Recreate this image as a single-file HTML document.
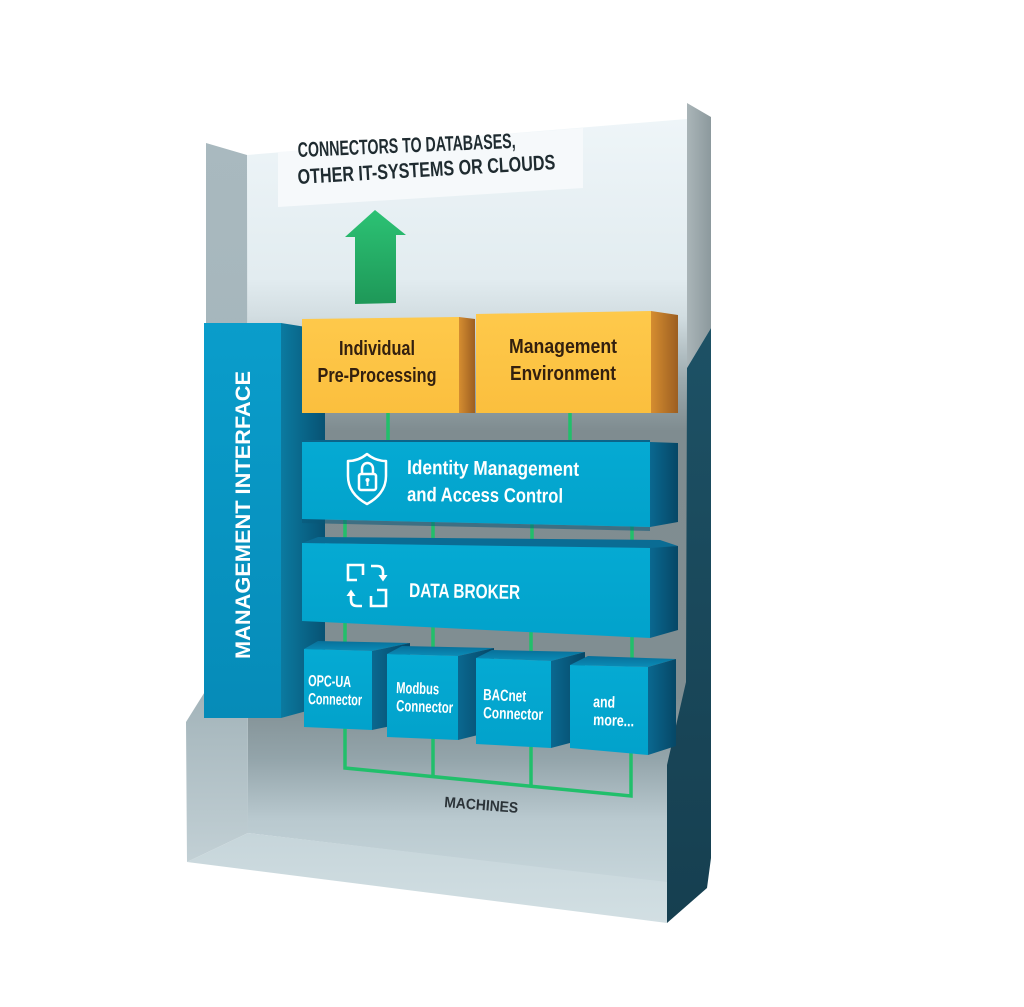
<!DOCTYPE html>
<html><head><meta charset="utf-8">
<style>
html,body{margin:0;padding:0;background:#fff;}
svg{display:block;}
text{font-family:"Liberation Sans Narrow","Liberation Sans",sans-serif;font-weight:bold;}
</style></head>
<body>
<svg width="1024" height="1007" viewBox="0 0 1024 1007" xmlns="http://www.w3.org/2000/svg">
<defs>
  <linearGradient id="backG" gradientUnits="userSpaceOnUse" x1="0" y1="119" x2="0" y2="880">
    <stop offset="0" stop-color="#eef5f8"/>
    <stop offset="0.21" stop-color="#e2ecf0"/>
    <stop offset="0.26" stop-color="#d2dde1"/>
    <stop offset="0.34" stop-color="#9dabaf"/>
    <stop offset="0.41" stop-color="#7f8c90"/>
    <stop offset="0.76" stop-color="#808e92"/>
    <stop offset="0.84" stop-color="#93a4aa"/>
    <stop offset="0.92" stop-color="#b9c9cf"/>
    <stop offset="1" stop-color="#c6d5da"/>
  </linearGradient>
  <linearGradient id="leftG" gradientUnits="userSpaceOnUse" x1="0" y1="143" x2="0" y2="862">
    <stop offset="0" stop-color="#a9b9bf"/>
    <stop offset="0.75" stop-color="#a1b2b8"/>
    <stop offset="1" stop-color="#c2d0d5"/>
  </linearGradient>
  <linearGradient id="floorG" gradientUnits="userSpaceOnUse" x1="0" y1="833" x2="0" y2="923">
    <stop offset="0" stop-color="#c6d5da"/>
    <stop offset="1" stop-color="#d2dfe3"/>
  </linearGradient>
  <linearGradient id="stripG" x1="0" y1="0" x2="1" y2="0">
    <stop offset="0" stop-color="#aab5b8"/>
    <stop offset="1" stop-color="#8c999d"/>
  </linearGradient>
  <linearGradient id="tealG" gradientUnits="userSpaceOnUse" x1="0" y1="330" x2="0" y2="923">
    <stop offset="0" stop-color="#1d5165"/>
    <stop offset="1" stop-color="#163f50"/>
  </linearGradient>
  <linearGradient id="arrowG" x1="0" y1="0" x2="0" y2="1">
    <stop offset="0" stop-color="#2cc274"/>
    <stop offset="1" stop-color="#1e9858"/>
  </linearGradient>
  <linearGradient id="miFront" x1="0" y1="0" x2="0" y2="1">
    <stop offset="0" stop-color="#0a9dcb"/>
    <stop offset="1" stop-color="#068bb8"/>
  </linearGradient>
  <linearGradient id="miSide" x1="0" y1="0" x2="1" y2="0">
    <stop offset="0" stop-color="#0b7aa0"/>
    <stop offset="1" stop-color="#075273"/>
  </linearGradient>
  <linearGradient id="orFront" x1="0" y1="0" x2="0" y2="1">
    <stop offset="0" stop-color="#fec94b"/>
    <stop offset="1" stop-color="#fbbf3e"/>
  </linearGradient>
  <linearGradient id="orSide" x1="0" y1="0" x2="1" y2="0">
    <stop offset="0" stop-color="#d58d30"/>
    <stop offset="1" stop-color="#9c5e21"/>
  </linearGradient>
  <linearGradient id="blFront" x1="0" y1="0" x2="0" y2="1">
    <stop offset="0" stop-color="#05aad3"/>
    <stop offset="1" stop-color="#02a2cb"/>
  </linearGradient>
  <linearGradient id="blSide" x1="0" y1="0" x2="1" y2="0">
    <stop offset="0" stop-color="#0a6890"/>
    <stop offset="1" stop-color="#064766"/>
  </linearGradient>
  <linearGradient id="cubeTop" x1="0" y1="1" x2="0" y2="0">
    <stop offset="0" stop-color="#0a8cb7"/>
    <stop offset="1" stop-color="#08709a"/>
  </linearGradient>
</defs>

<!-- back wall -->
<polygon points="247,155 687,119 687,885 248,833" fill="url(#backG)"/>
<!-- text panel -->
<polygon points="278,152 583,128 583,188 278,207" fill="#f6f9fb"/>
<!-- left wall -->
<polygon points="206,143 247,155 248,833 187,862 186,722 206,690" fill="url(#leftG)"/>
<!-- floor -->
<polygon points="248,833 667,882 667,923 187,862" fill="url(#floorG)"/>
<!-- right wall grey strip -->
<polygon points="687,103 711,117 711,328 687,368" fill="url(#stripG)"/>
<!-- right wall dark teal -->
<polygon points="687,368 711,328 711,858 707,888 667,923 667,765 686,682" fill="url(#tealG)"/>

<!-- green arrow -->
<polygon points="375,210 406,235 396,235 396,303 355,304 355,237 345,237" fill="url(#arrowG)"/>

<!-- connectors text -->
<text x="298" y="157" transform="rotate(-2.4 298 157)" font-size="21" fill="#1f2b30" textLength="218" lengthAdjust="spacingAndGlyphs">CONNECTORS TO DATABASES,</text>
<text x="298" y="184" transform="rotate(-3.3 298 184)" font-size="21" fill="#1f2b30" textLength="258" lengthAdjust="spacingAndGlyphs">OTHER IT-SYSTEMS OR CLOUDS</text>

<!-- green connection lines -->
<g stroke="#21bf6b" stroke-width="3.5" fill="none">
  <line x1="388" y1="410" x2="388" y2="446"/>
  <line x1="570" y1="410" x2="570" y2="446"/>
  <line x1="345" y1="515" x2="345" y2="546"/>
  <line x1="433" y1="518" x2="433" y2="547"/>
  <line x1="532" y1="521" x2="532" y2="550"/>
  <line x1="632" y1="524" x2="632" y2="552"/>
  <line x1="345" y1="615" x2="345" y2="648"/>
  <line x1="433" y1="622" x2="433" y2="652"/>
  <line x1="531" y1="628" x2="531" y2="656"/>
  <line x1="632" y1="632" x2="632" y2="664"/>
  <path d="M345,725 L345,768 L631,796 L631,750"/>
  <line x1="433" y1="735" x2="433" y2="777"/>
  <line x1="531" y1="744" x2="531" y2="786"/>
</g>

<!-- management interface bar -->
<polygon points="281,323 325,330 325,706 281,718" fill="url(#miSide)"/>
<rect x="204" y="323" width="77" height="395" fill="url(#miFront)"/>
<text transform="translate(250,515) rotate(-90)" text-anchor="middle" font-size="21" fill="#ffffff" textLength="288" lengthAdjust="spacingAndGlyphs">MANAGEMENT INTERFACE</text>

<!-- orange block 1 -->
<polygon points="459,317 475,319 475,413 459,413" fill="url(#orSide)"/>
<polygon points="302,319 459,317 459,413 302,413" fill="url(#orFront)"/>
<text x="377" y="355" text-anchor="middle" font-size="20" fill="#33200f" textLength="76" lengthAdjust="spacingAndGlyphs">Individual</text>
<text x="377" y="382" text-anchor="middle" font-size="20" fill="#33200f" textLength="119" lengthAdjust="spacingAndGlyphs">Pre-Processing</text>

<!-- orange block 2 -->
<polygon points="651,311 678,315 678,413 651,413" fill="url(#orSide)"/>
<polygon points="476,314 651,311 651,413 476,413" fill="url(#orFront)"/>
<text x="563" y="353" text-anchor="middle" font-size="20" fill="#33200f" textLength="108" lengthAdjust="spacingAndGlyphs">Management</text>
<text x="563" y="380" text-anchor="middle" font-size="20" fill="#33200f" textLength="106" lengthAdjust="spacingAndGlyphs">Environment</text>

<!-- identity block -->
<polygon points="302,519 650,527 650,531 302,523" fill="#0a5878" opacity="0.55"/>
<polygon points="650,442 678,443 678,522 650,527" fill="url(#blSide)"/>
<polygon points="302,442 650,442 650,527 302,519" fill="url(#blFront)"/>
<rect x="302" y="440" width="348" height="2" fill="#0b6489"/>
<g fill="none" stroke="#ffffff" stroke-width="2.5" stroke-linejoin="round">
  <path d="M367,454 C361,459 354,461 348,461 L348,476 C348,489 356,498 367,504 C378,498 386,489 386,476 L386,461 C380,461 373,459 367,454 Z"/>
  <path d="M362,474 L362,469 C362,461 373,461 373,469 L373,474"/>
  <rect x="359" y="474" width="17" height="16" rx="2"/>
</g>
<circle cx="367.5" cy="480" r="2" fill="#fff"/>
<line x1="367.5" y1="480" x2="367.5" y2="486" stroke="#fff" stroke-width="2"/>
<text x="407" y="474" transform="rotate(0.6 407 474)" font-size="20" fill="#ffffff" textLength="172" lengthAdjust="spacingAndGlyphs">Identity Management</text>
<text x="407" y="501" transform="rotate(0.6 407 501)" font-size="20" fill="#ffffff" textLength="156" lengthAdjust="spacingAndGlyphs">and Access Control</text>

<!-- data broker block -->
<polygon points="302,543 650,549 678,546 660,540 318,537" fill="#0a6c94"/>
<polygon points="650,548 678,546 678,630 650,638" fill="url(#blSide)"/>
<polygon points="302,543 650,548 650,638 302,621" fill="url(#blFront)"/>
<g fill="none" stroke="#ffffff" stroke-width="2.6" stroke-linejoin="miter">
  <path d="M363,575 L363,565 L348,565 L348,580 L357,580"/>
  <path d="M371,566 L377,566 Q383,566 383,572 L383,576"/>
  <path d="M362,606 L357,606 Q351,606 351,600 L351,595"/>
  <path d="M371,596 L371,606 L386,606 L386,590 L377,590"/>
</g>
<polygon points="378.5,575 387.5,575 383,581.5" fill="#fff"/>
<polygon points="346.5,596 355.5,596 351,589.5" fill="#fff"/>
<text x="409" y="597" transform="rotate(1 409 597)" font-size="20" fill="#ffffff" textLength="111" lengthAdjust="spacingAndGlyphs">DATA BROKER</text>

<!-- cubes -->
<!-- OPC-UA -->
<polygon points="304,649 372,651 410,643 318,641" fill="url(#cubeTop)"/>
<polygon points="372,651 410,643 410,722 372,730" fill="url(#blSide)"/>
<polygon points="304,649 372,651 372,730 304,727" fill="url(#blFront)"/>
<text x="308" y="686" transform="rotate(1.5 308 686)" font-size="16" fill="#fff" textLength="43" lengthAdjust="spacingAndGlyphs">OPC-UA</text>
<text x="308" y="704" transform="rotate(1.5 308 704)" font-size="16" fill="#fff" textLength="54" lengthAdjust="spacingAndGlyphs">Connector</text>
<!-- Modbus -->
<polygon points="387,654 458,656 494,648 402,646" fill="url(#cubeTop)"/>
<polygon points="458,656 494,648 494,731 458,740" fill="url(#blSide)"/>
<polygon points="387,654 458,656 458,740 387,737" fill="url(#blFront)"/>
<text x="396" y="693" transform="rotate(2 396 693)" font-size="16" fill="#fff" textLength="43" lengthAdjust="spacingAndGlyphs">Modbus</text>
<text x="396" y="711" transform="rotate(2 396 711)" font-size="16" fill="#fff" textLength="57" lengthAdjust="spacingAndGlyphs">Connector</text>
<!-- BACnet -->
<polygon points="476,658 551,661 585,652 492,650" fill="url(#cubeTop)"/>
<polygon points="551,661 585,652 585,739 551,748" fill="url(#blSide)"/>
<polygon points="476,658 551,661 551,748 476,744" fill="url(#blFront)"/>
<text x="483" y="700" transform="rotate(2 483 700)" font-size="16" fill="#fff" textLength="43" lengthAdjust="spacingAndGlyphs">BACnet</text>
<text x="483" y="718" transform="rotate(2 483 718)" font-size="16" fill="#fff" textLength="60" lengthAdjust="spacingAndGlyphs">Connector</text>
<!-- and more -->
<polygon points="570,665 648,667 676,659 588,656" fill="url(#cubeTop)"/>
<polygon points="648,667 676,659 676,746 648,755" fill="url(#blSide)"/>
<polygon points="570,665 648,667 648,755 570,748" fill="url(#blFront)"/>
<text x="593" y="707" transform="rotate(2 593 707)" font-size="16" fill="#fff" textLength="22" lengthAdjust="spacingAndGlyphs">and</text>
<text x="593" y="725" transform="rotate(2 593 725)" font-size="16" fill="#fff" textLength="41" lengthAdjust="spacingAndGlyphs">more...</text>

<!-- machines label -->
<text x="444" y="807" transform="rotate(4.5 444 807)" font-size="15" fill="#2b3338" textLength="74" lengthAdjust="spacingAndGlyphs">MACHINES</text>
</svg>
</body></html>
